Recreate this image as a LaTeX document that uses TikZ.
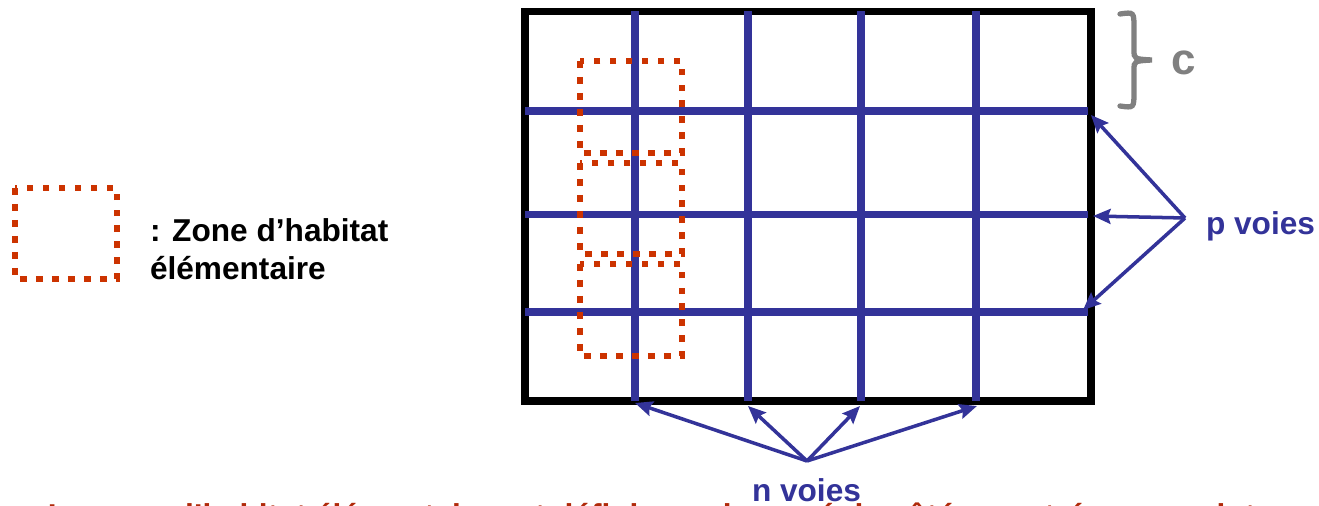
\documentclass[tikz,border=0pt]{standalone}
\usepackage{fontspec}
\setmainfont{Liberation Sans}
\usepackage{tikz}
\usetikzlibrary{arrows.meta, positioning}
\definecolor{roadblue}{HTML}{333399}
\definecolor{zonered}{HTML}{CC3300}
\definecolor{captionred}{HTML}{B02A0A}
\definecolor{bracegray}{HTML}{808080}

\begin{document}
\begin{tikzpicture}[
  x=0.02cm, y=-0.02cm,
  every node/.style={font=\bfseries\fontsize{18}{21.5}\selectfont,
    inner sep=0pt, outer sep=0pt},
  frame/.style={draw=black, line width=4.5pt},
  road/.style={draw=roadblue, line width=4.2pt},
  zone/.style={draw=zonered, line width=3.8pt,
    dash pattern=on 3.8pt off 5.3pt},
  pointer/.style={-{Stealth[length=10pt, width=8.5pt, inset=1.5pt]},
    roadblue, line width=2pt},
  roadlabel/.style={anchor=base west, text=roadblue},
]
\clip (0,0) rectangle (1319,506);

% Frame of the district
\draw[frame] (525,11.5) rectangle (1091,401);

% Horizontal roads (p voies)
\draw[road] (525,111)   -- (1088,111);
\draw[road] (525,214.5) -- (1088,214.5);
\draw[road] (525,312)   -- (1088,312);

% Vertical roads (n voies)
\draw[road] (635,11.5) -- (635,401);
\draw[road] (748,11.5) -- (748,401);
\draw[road] (861,11.5) -- (861,401);
\draw[road] (976,11.5) -- (976,401);

% Elementary zones along the first vertical road
\draw[zone] (580,61)  rectangle (682,153);
\draw[zone] (580,163) rectangle (682,254);
\draw[zone] (580,264) rectangle (682,356);

% Legend
\draw[zone] (15,188) rectangle (117,279);
\node[anchor=base west] (legend1) at (150,242) {: Zone d’habitat};
\node[below=21.5pt of legend1.base west, anchor=base west]
      (legend2) {élémentaire};

% Brace for the spacing c
\draw[bracegray, line width=3pt, line cap=round]
  (1120,14) .. controls (1134,12) .. (1134,28) -- (1134,50)
  .. controls (1134,59) .. (1152,60)
  .. controls (1134,61) .. (1134,70) -- (1134,92)
  .. controls (1134,108) .. (1120,106);
\node[anchor=base west, text=bracegray, font=\bfseries\fontsize{25}{30}\selectfont]
      (spacing) at (1171,75) {c};

% p voies — arrows to the ends of the horizontal roads
\node[roadlabel] (pvoies) at (1206,235) {p voies};
\coordinate (papex) at (1185,218);
\coordinate (ptop)  at (1091,115);
\coordinate (pmid)  at (1093,216);
\coordinate (pbot)  at (1083,310);
\draw[pointer] (papex) -- (ptop);
\draw[pointer] (papex) -- (pmid);
\draw[pointer] (papex) -- (pbot);

% n voies — arrows to the ends of the vertical roads
\node[roadlabel] (nvoies) at (752,501) {n voies};
\coordinate (napex) at (807,461);
\coordinate (nfirst)  at (635,403);
\coordinate (nsecond) at (748,406);
\coordinate (nthird)  at (860,406);
\coordinate (nfourth) at (977,406);
\draw[pointer] (napex) -- (nfirst);
\draw[pointer] (napex) -- (nsecond);
\draw[pointer] (napex) -- (nthird);
\draw[pointer] (napex) -- (nfourth);

% Caption (cut at the bottom edge)
\node[anchor=base west, text=captionred] (caption) at (48,526)
  {La zone d’habitat élémentaire est définie par le carré de côté c centré sur une intersection};

\end{tikzpicture}
\end{document}
